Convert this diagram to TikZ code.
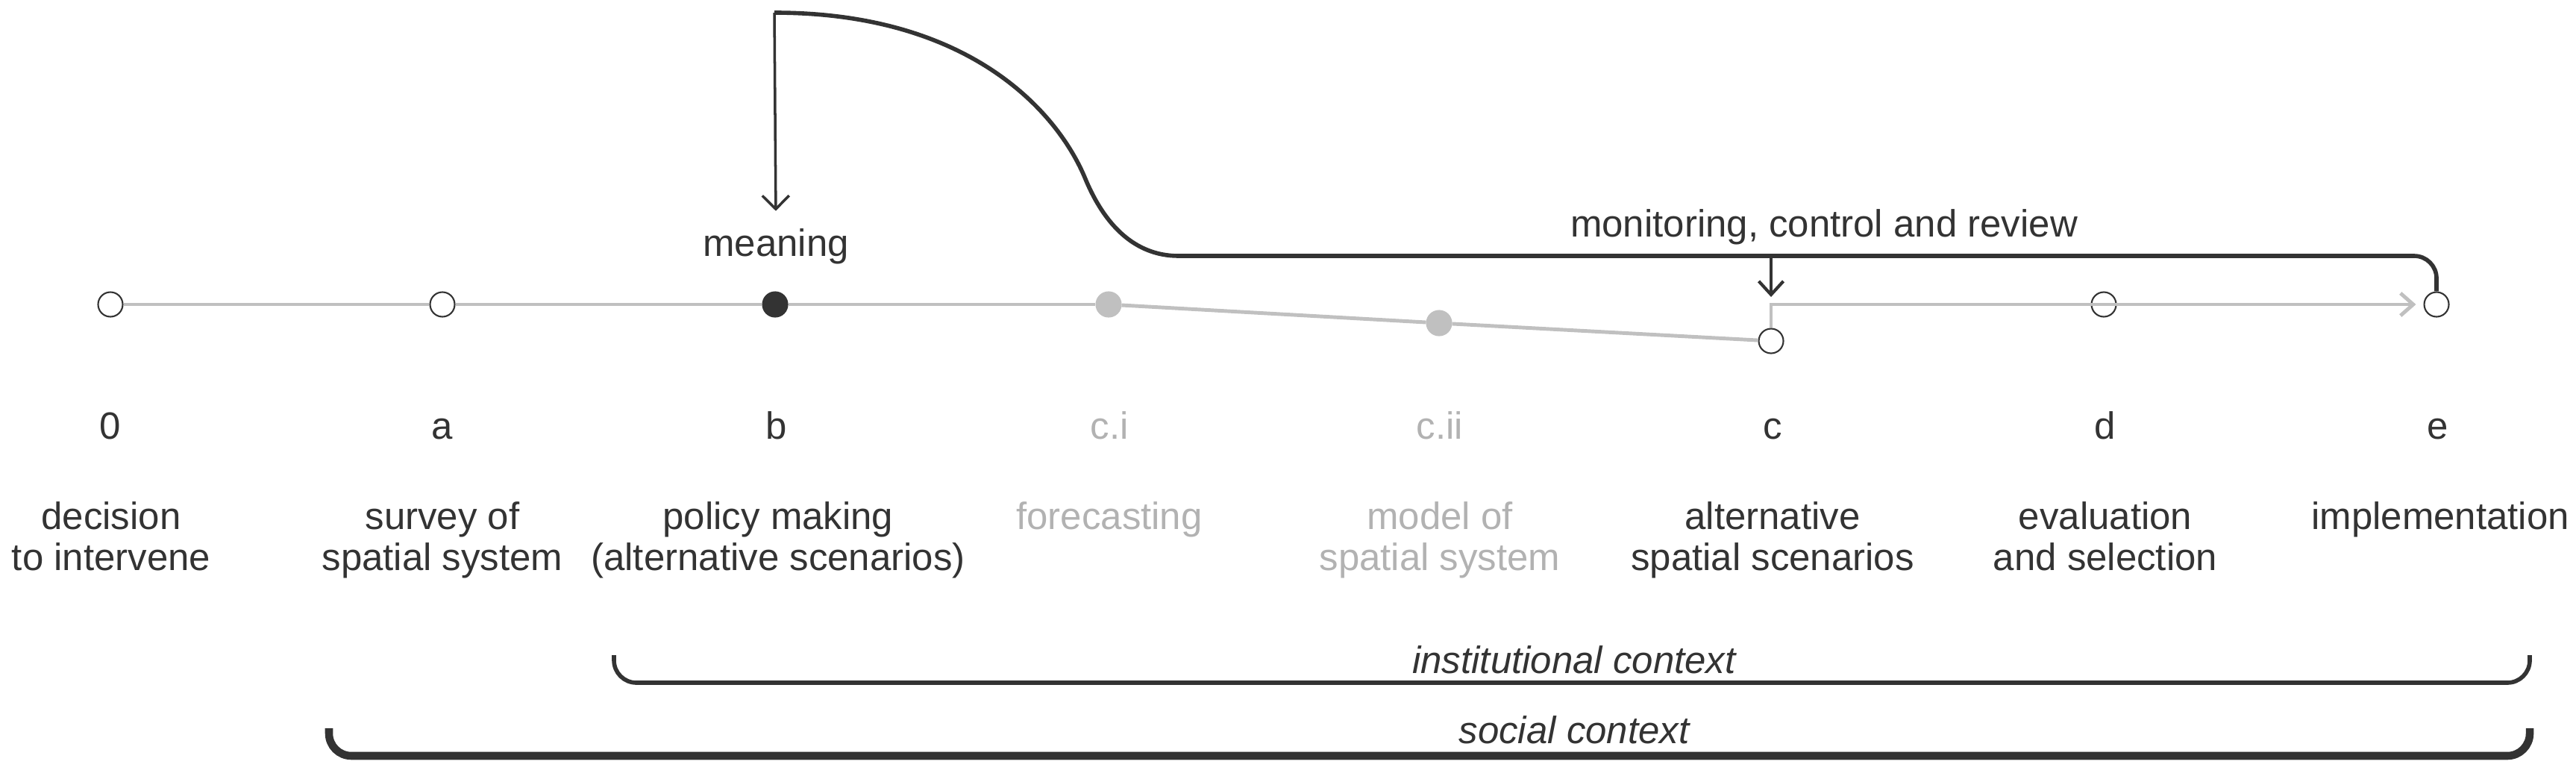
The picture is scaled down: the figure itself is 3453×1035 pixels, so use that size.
\documentclass[tikz,border=0pt]{standalone}
\usepackage{fontspec}
\setmainfont{Liberation Sans}
\usetikzlibrary{arrows.meta}

\definecolor{ink}{HTML}{333333}
\definecolor{ash}{HTML}{C0C0C0}
\definecolor{fade}{HTML}{B2B2B2}

\begin{document}
\begin{tikzpicture}[x=0.1mm, y=-0.1mm,
        stage/.style={circle, draw=ink, fill=white, line width=0.6pt, minimum size=3.3mm, inner sep=0pt},
        tag/.style={anchor=base, text=ink},
        caption/.style={anchor=north, align=center, inner sep=0pt, text=ink},
        link/.style={draw=ash, line width=1.4pt},
        loop/.style={draw=ink, line width=1.6pt},
        brace/.style={draw=ink, rounded corners=3mm}]
    \useasboundingbox (0,0) rectangle (3453,1035);
        \begin{scope}[every node/.style={font=\fontsize{14.5}{15.6}\selectfont}]
            \node[stage] (0) at (148, 408) {};
            \node[stage] (a) at (593, 408) {};
            \node[stage, fill=ink] (b) at (1039, 408) {};
            \node[stage, draw=ash, fill=ash] (ci) at (1486, 408) {};
            \node[stage, draw=ash, fill=ash] (cii) at (1929, 433) {};
            \node[stage] (c) at (2374, 457) {};
            \node[stage] (d) at (2820, 408) {};
            \node[stage] (e) at (3266, 408) {};

            \node[tag] (t0) at (148, 588) {0};
            \node[tag] (ta) at (593, 588) {a};
            \node[tag] (tb) at (1041, 588) {b};
            \node[tag, text=fade] (tci) at (1487, 588) {c.i};
            \node[tag, text=fade] (tcii) at (1930, 588) {c.ii};
            \node[tag] (tc) at (2376, 588) {c};
            \node[tag] (td) at (2822, 588) {d};
            \node[tag] (te) at (3268, 588) {e};

            \node[caption] (s0) at (149, 672) {decision\\to intervene};
            \node[caption] (sa) at (593, 672) {survey of\\spatial system};
            \node[caption] (sb) at (1043, 672) {policy making\\(alternative scenarios)};
            \node[caption, text=fade] (sci) at (1487, 672) {forecasting};
            \node[caption, text=fade] (scii) at (1930, 672) {model of\\spatial system};
            \node[caption] (sc) at (2376, 672) {alternative\\spatial scenarios};
            \node[caption] (sd) at (2822, 672) {evaluation\\and selection};
            \node[caption] (se) at (3271, 672) {implementation};

            \node[tag] (meaning) at (1040, 343) {meaning};
            \node[tag] (review) at (2445, 317) {monitoring, control and review};
            \node[text=ink, font=\fontsize{14.5}{15.6}\selectfont\itshape] (inst) at (2110, 884) {institutional context};
            \node[text=ink, font=\fontsize{14.5}{15.6}\selectfont\itshape] (soc) at (2110, 978) {social context};
        \end{scope}

        \coordinate (bend) at (1610, 343);
        \coordinate (peak) at (1038, 17);

        % the process line
        \draw[link] (0) -- (a) -- (b) -- (ci);
        \draw[link] (ci) -- (cii) -- (c);
        \draw[link, -{Straight Barb[length=1.7mm, width=3mm]}, shorten >=1mm] (c) |- (e);

        % feedback loop
        \draw[loop, rounded corners=3mm] (e.north) |- (bend) [sharp corners]
            .. controls (1520, 343) and (1480, 300) .. (1455, 240)
            .. controls (1418, 150) and (1300, 17) .. (peak);
        \draw[ink, line width=1pt, -{Straight Barb[length=1.8mm, width=3.6mm]}, shorten >=1.1mm] (peak) -- (meaning.north);
        \draw[ink, line width=1.2pt, -{Straight Barb[length=1.8mm, width=3.3mm]}, shorten >=1mm] (c |- bend) -- (c |- e);

        % contexts
        \draw[brace, line width=1.6pt] (823, 878) |- (inst.center |- 0, 915) -| (3391, 878);
        \draw[brace, line width=3pt] (441, 976) |- (soc.center |- 0, 1013) -| (3391, 976);
\end{tikzpicture}
\end{document}
